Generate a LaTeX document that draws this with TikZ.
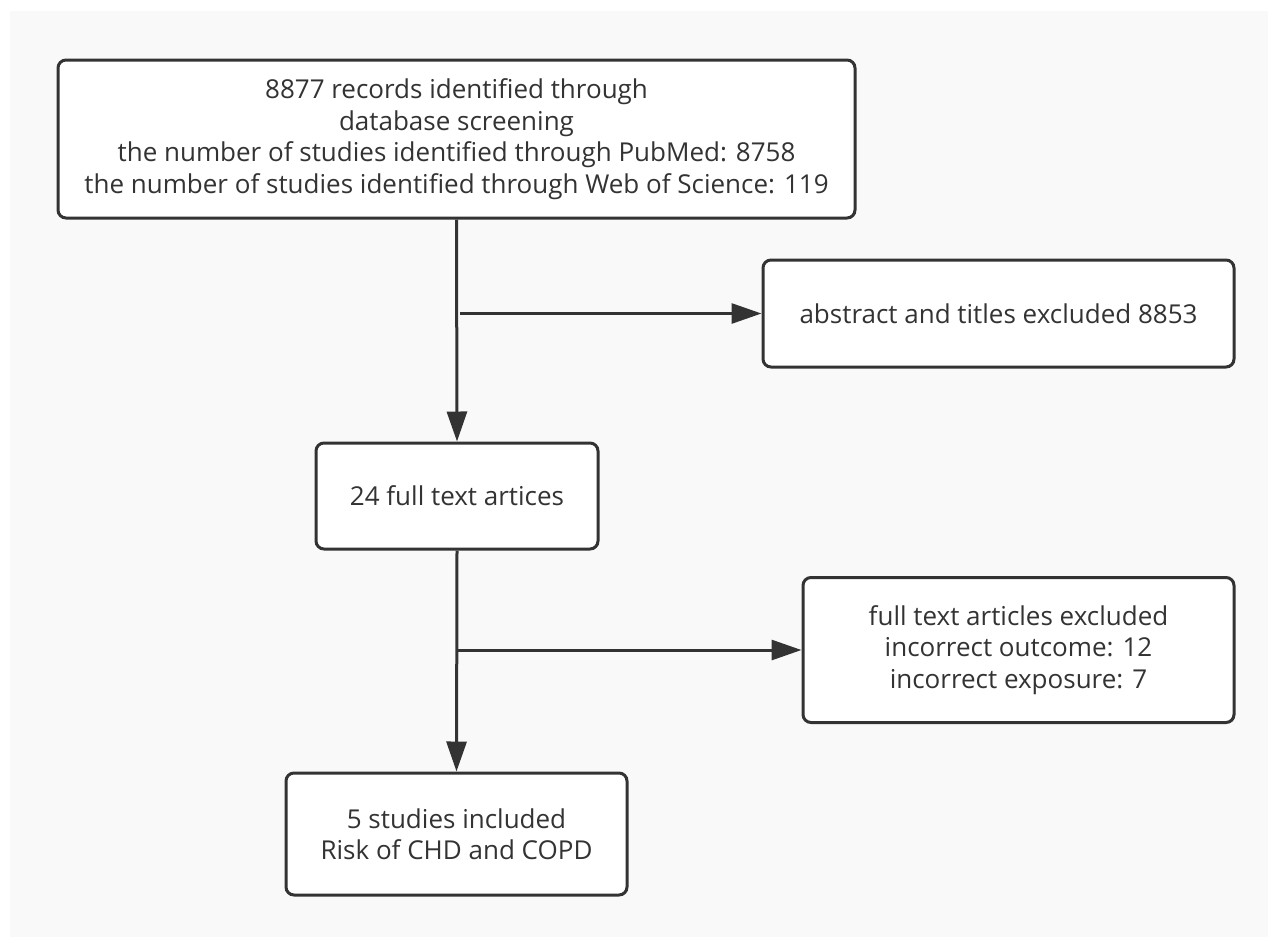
\documentclass[tikz,border=0pt]{standalone}
\usepackage{fontspec}
\setmainfont{Open Sans}
\usetikzlibrary{arrows.meta}
\definecolor{bg}{HTML}{F9F9F9}
\definecolor{ln}{HTML}{333333}
\begin{document}
\begin{tikzpicture}[x=1pt,y=-1pt,
  box/.style={draw=ln, line width=3pt, rounded corners=8pt, fill=white, align=center, text=ln,
              font=\fontsize{26}{31.5}\selectfont, inner sep=0pt},
  arr/.style={draw=ln, line width=3pt, -{Triangle[length=30pt,width=20pt]}}]
\useasboundingbox (0,0) rectangle (1268,937);
\fill[white] (0,0) rectangle (1268,937);
\fill[bg] (10,11) rectangle (1268,937);
\node[box, minimum width=797pt, minimum height=158pt] (top) at (456.5,139)
  {8877 records identified through\\database screening\\the number of studies identified through PubMed: 8758\\the number of studies identified through Web of Science: 119};
\node[box, minimum width=471pt, minimum height=107pt] (r1) at (998.5,313.5)
  {abstract and titles excluded 8853};
\node[box, minimum width=282pt, minimum height=106pt] (mid) at (457,496)
  {24 full text artices};
\node[box, minimum width=431pt, minimum height=145pt] (r2) at (1018.5,650)
  {full text articles excluded\\incorrect outcome: 12\\incorrect exposure: 7};
\node[box, minimum width=341pt, minimum height=122pt] (bot) at (456.5,834)
  {5 studies included\\Risk of CHD and COPD};
\coordinate (j1) at (460,313.5);
\draw[arr] (top.south) -- (mid.north);
\draw[arr] (j1) -- (r1.west);
\draw[arr] (mid.south) -- (bot.north);
\draw[arr] (mid.south |- r2.west) -- (r2.west);
\end{tikzpicture}
\end{document}
